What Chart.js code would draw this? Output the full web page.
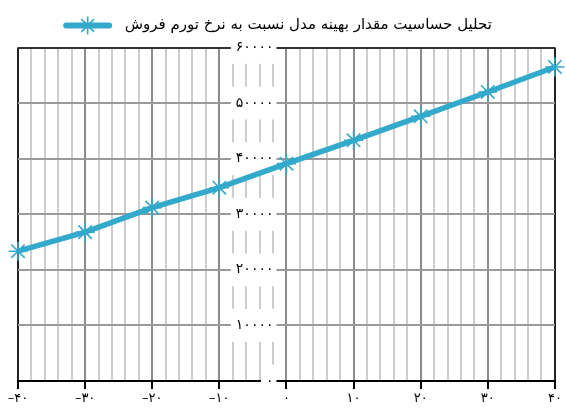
<!DOCTYPE html>
<html>
<head>
<meta charset="utf-8">
<script src="https://cdn.jsdelivr.net/npm/chart.js@4/dist/chart.umd.min.js"></script>
<style>
  html, body { margin: 0; padding: 0; background: #fff; }
  #wrap { width: 566px; height: 410px; }
</style>
</head>
<body>
<div id="wrap"><canvas id="c"></canvas></div>
<script>
// Sales inflation rate (%) and the model's optimal value at each rate
const inflationRates = [-40, -30, -20, -10, 0, 10, 20, 30, 40];
const optimalValues = [23350, 26780, 31200, 34780, 39100, 43300, 47620, 52000, 56500];
const seriesLabel = 'تحلیل حساسیت مقدار بهینه مدل نسبت به نرخ تورم فروش';

const LINE_COLOR = '#33a9cb';
const FONT = '"DejaVu Sans", sans-serif';
const LEGEND_SHIFT_X = -11;
const LEGEND_SHIFT_Y = -4.5;

// Western digits -> Persian digits, with a leading minus sign for negatives
const PERSIAN_DIGITS = '۰۱۲۳۴۵۶۷۸۹';
function toPersian(n) {
  const s = String(Math.abs(n)).replace(/\d/g, d => PERSIAN_DIGITS[+d]);
  return n < 0 ? '–' + s : s;
}

// Legend: nudge it a little and draw its sample, a thick rounded
// stroke with the star marker on it
const legendSample = {
  id: 'legendSample',
  afterLayout(chart) {
    const lg = chart.legend;
    if (lg) {
      lg.left += LEGEND_SHIFT_X; lg.right += LEGEND_SHIFT_X;
      lg.top += LEGEND_SHIFT_Y; lg.bottom += LEGEND_SHIFT_Y;
    }
  },
  afterDraw(chart) {
    const box = chart.legend && chart.legend.legendHitBoxes && chart.legend.legendHitBoxes[0];
    if (!box) return;
    const ctx = chart.ctx;
    const left = box.left;
    const cy = box.top + box.height / 2;
    const x0 = left + 3, x1 = left + 46;
    const cx = (x0 + x1) / 2;
    ctx.save();
    ctx.strokeStyle = LINE_COLOR;
    ctx.lineCap = 'round';
    ctx.lineWidth = 6;
    ctx.beginPath(); ctx.moveTo(x0, cy); ctx.lineTo(x1, cy); ctx.stroke();
    ctx.lineCap = 'butt';
    ctx.lineWidth = 1.6;
    const r = 9;
    for (let a = 0; a < 4; a++) {
      const ang = a * Math.PI / 4;
      ctx.beginPath();
      ctx.moveTo(cx - r * Math.cos(ang), cy - r * Math.sin(ang));
      ctx.lineTo(cx + r * Math.cos(ang), cy + r * Math.sin(ang));
      ctx.stroke();
    }
    ctx.restore();
  }
};

new Chart(document.getElementById('c'), {
  type: 'line',
  data: {
    datasets: [{
      label: seriesLabel,
      data: inflationRates.map((x, i) => ({ x, y: optimalValues[i] })),
      borderColor: LINE_COLOR,
      backgroundColor: LINE_COLOR,
      borderWidth: 5.5,
      tension: 0,
      fill: false,
      pointStyle: 'star',
      pointRadius: 9.5,
      pointBorderWidth: 1.6,
      pointBorderColor: LINE_COLOR,
      clip: false
    }]
  },
  options: {
    responsive: true,
    maintainAspectRatio: false,
    animation: false,
    layout: { padding: { left: 18, right: 7, top: 6.5, bottom: 0 } },
    plugins: {
      tooltip: { enabled: false },
      legend: {
        position: 'top',
        labels: {
          boxWidth: 54,
          boxHeight: 6,
          padding: 16,
          color: '#000',
          font: { family: FONT, size: 15 },
          generateLabels: () => [{
            text: seriesLabel,
            fillStyle: 'rgba(0,0,0,0)',
            strokeStyle: 'rgba(0,0,0,0)',
            lineWidth: 0,
            hidden: false,
            datasetIndex: 0
          }]
        }
      }
    },
    scales: {
      x: {
        type: 'linear',
        position: 'bottom',
        min: -40,
        max: 40,
        afterFit: (s) => { s.height = 29; s.paddingLeft = 0; s.paddingRight = 0; },
        ticks: {
          stepSize: 2,
          autoSkip: false,
          maxRotation: 0,
          padding: 2,
          color: '#000',
          font: { family: FONT, size: 13 },
          callback: (v) => (v % 10 === 0 ? toPersian(v) : '')
        },
        grid: {
          lineWidth: 2,
          tickLength: 8,
          color: (c) => {
            const v = c.tick ? c.tick.value : 0;
            if (v === -40 || v === 40) return '#222';
            return v % 10 === 0 ? '#8c8c8c' : '#cdcdcd';
          },
          tickColor: (c) => (c.tick && c.tick.value % 10 === 0 ? '#000' : 'rgba(0,0,0,0)')
        },
        border: { color: '#000', width: 2 }
      },
      y: {
        type: 'linear',
        position: 'center',
        min: 0,
        max: 60000,
        ticks: {
          stepSize: 10000,
          padding: 13,
          color: '#000',
          font: { family: FONT, size: 14 },
          showLabelBackdrop: true,
          backdropColor: '#fff',
          backdropPadding: { left: 5, right: 3, top: 8, bottom: 8 },
          callback: (v) => toPersian(v)
        },
        grid: {
          lineWidth: 2,
          drawTicks: false,
          color: (c) => (c.tick && c.tick.value === 60000 ? '#333' : '#9a9a9a')
        },
        border: { display: false }
      }
    }
  },
  plugins: [legendSample]
});
</script>
</body>
</html>
